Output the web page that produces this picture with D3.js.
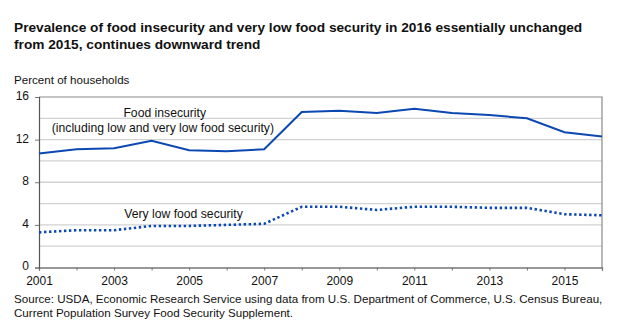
<!DOCTYPE html>
<html>
<head>
<meta charset="utf-8">
<script src="https://cdn.jsdelivr.net/npm/d3@7"></script>
<style>
  body { margin: 0; background: #fff; }
  svg text { font-family: "Liberation Sans", Arial, sans-serif; fill: #111; }
  .title { font-size: 13.7px; font-weight: bold; }
  .tick text { font-size: 12px; }
  .note { font-size: 11.6px; }
  .anno { font-size: 12.2px; }
</style>
</head>
<body>
<div class="chart"></div>
<script>
/* data */
const years = [2001, 2002, 2003, 2004, 2005, 2006, 2007, 2008, 2009, 2010, 2011, 2012, 2013, 2014, 2015, 2016];
const foodInsecurity = [10.7, 11.1, 11.2, 11.9, 11.0, 10.9, 11.1, 14.6, 14.7, 14.5, 14.9, 14.5, 14.3, 14.0, 12.7, 12.3];
const veryLowFoodSecurity = [3.3, 3.5, 3.5, 3.9, 3.9, 4.0, 4.1, 5.7, 5.7, 5.4, 5.7, 5.7, 5.6, 5.6, 5.0, 4.9];
const yTicks = [0, 4, 8, 12, 16];
const gridValues = [2, 4, 6, 8, 10, 12, 14];
const xLabels = [2001, 2003, 2005, 2007, 2009, 2011, 2013, 2015];

const titleLines = [
  "Prevalence of food insecurity and very low food security in 2016 essentially unchanged",
  "from 2015, continues downward trend"
];
const sourceLines = [
  "Source: USDA, Economic Research Service using data from U.S. Department of Commerce, U.S. Census Bureau,",
  "Current Population Survey Food Security Supplement."
];

const width = 630, height = 327;
const margin = {top: 97, right: 28, bottom: 60, left: 39};
const lineColor = "#0b48b2";

const svg = d3.select(".chart").append("svg")
  .attr("width", width)
  .attr("height", height);

/* scales */
const x = d3.scaleLinear().domain([2001, 2016]).range([margin.left, width - margin.right]);
const y = d3.scaleLinear().domain([0, 16]).range([height - margin.bottom + 0.5, margin.top]);

/* title */
svg.append("g").selectAll("text")
  .data(titleLines)
  .enter().append("text")
  .attr("class", "title")
  .attr("x", 14)
  .attr("y", (d, i) => 32 + i * 16.5)
  .text(d => d);

/* y label */
svg.append("text")
  .attr("class", "note")
  .attr("x", 14)
  .attr("y", 83.5)
  .text("Percent of households");

/* grid lines */
svg.append("g").selectAll("line")
  .data(gridValues)
  .enter().append("line")
  .attr("x1", x(2001))
  .attr("x2", x(2016))
  .attr("y1", d => y(d))
  .attr("y2", d => y(d))
  .attr("stroke", "#d2d2d2")
  .attr("stroke-width", 1.3);

/* frame: top and right */
svg.append("path")
  .attr("d", `M${x(2001)},${y(16)}H${x(2016)}V${y(0)}`)
  .attr("fill", "none")
  .attr("stroke", "#8a8a8a")
  .attr("stroke-width", 1.2);

/* x axis */
const xAxis = d3.axisBottom(x)
  .tickValues(years)
  .tickSize(3)
  .tickFormat(d => xLabels.includes(d) ? d : "");
const gx = svg.append("g")
  .attr("transform", `translate(0, ${y(0)})`)
  .call(xAxis);
gx.select(".domain").attr("stroke", "#333").attr("stroke-width", 1.2);
gx.selectAll(".tick line").attr("stroke", "#777");
gx.selectAll(".tick text").attr("y", 8.5).attr("dy", "0.71em");

/* y axis */
const yAxis = d3.axisLeft(y)
  .tickValues(yTicks)
  .tickSize(4)
  .tickPadding(6);
const gy = svg.append("g")
  .attr("transform", `translate(${x(2001)}, 0)`)
  .call(yAxis);
gy.select(".domain").attr("stroke", "#555").attr("stroke-width", 1.2);
gy.selectAll(".tick line").attr("stroke", "#777");
gy.selectAll(".tick text").attr("dy", "0.2em");

/* lines */
const line = d3.line()
  .x(d => x(d[0]))
  .y(d => y(d[1]));

svg.append("path")
  .datum(d3.zip(years, foodInsecurity))
  .attr("d", line)
  .attr("fill", "none")
  .attr("stroke", lineColor)
  .attr("stroke-width", 2);

svg.append("path")
  .datum(d3.zip(years, veryLowFoodSecurity))
  .attr("d", line)
  .attr("fill", "none")
  .attr("stroke", lineColor)
  .attr("stroke-width", 2.6)
  .attr("stroke-dasharray", "2.4,2.6");

/* annotations */
svg.append("text")
  .attr("class", "anno")
  .attr("x", x(2004.35))
  .attr("y", y(14.15))
  .attr("text-anchor", "middle")
  .text("Food insecurity");
svg.append("text")
  .attr("class", "anno")
  .attr("x", x(2004.3))
  .attr("y", y(12.75))
  .attr("text-anchor", "middle")
  .text("(including low and very low food security)");
svg.append("text")
  .attr("class", "anno")
  .attr("x", x(2004.85))
  .attr("y", y(4.6))
  .attr("text-anchor", "middle")
  .text("Very low food security");

/* source */
svg.append("g").selectAll("text")
  .data(sourceLines)
  .enter().append("text")
  .attr("class", "note")
  .attr("x", 14)
  .attr("y", (d, i) => 303 + i * 13.5)
  .text(d => d);
</script>
</body>
</html>
